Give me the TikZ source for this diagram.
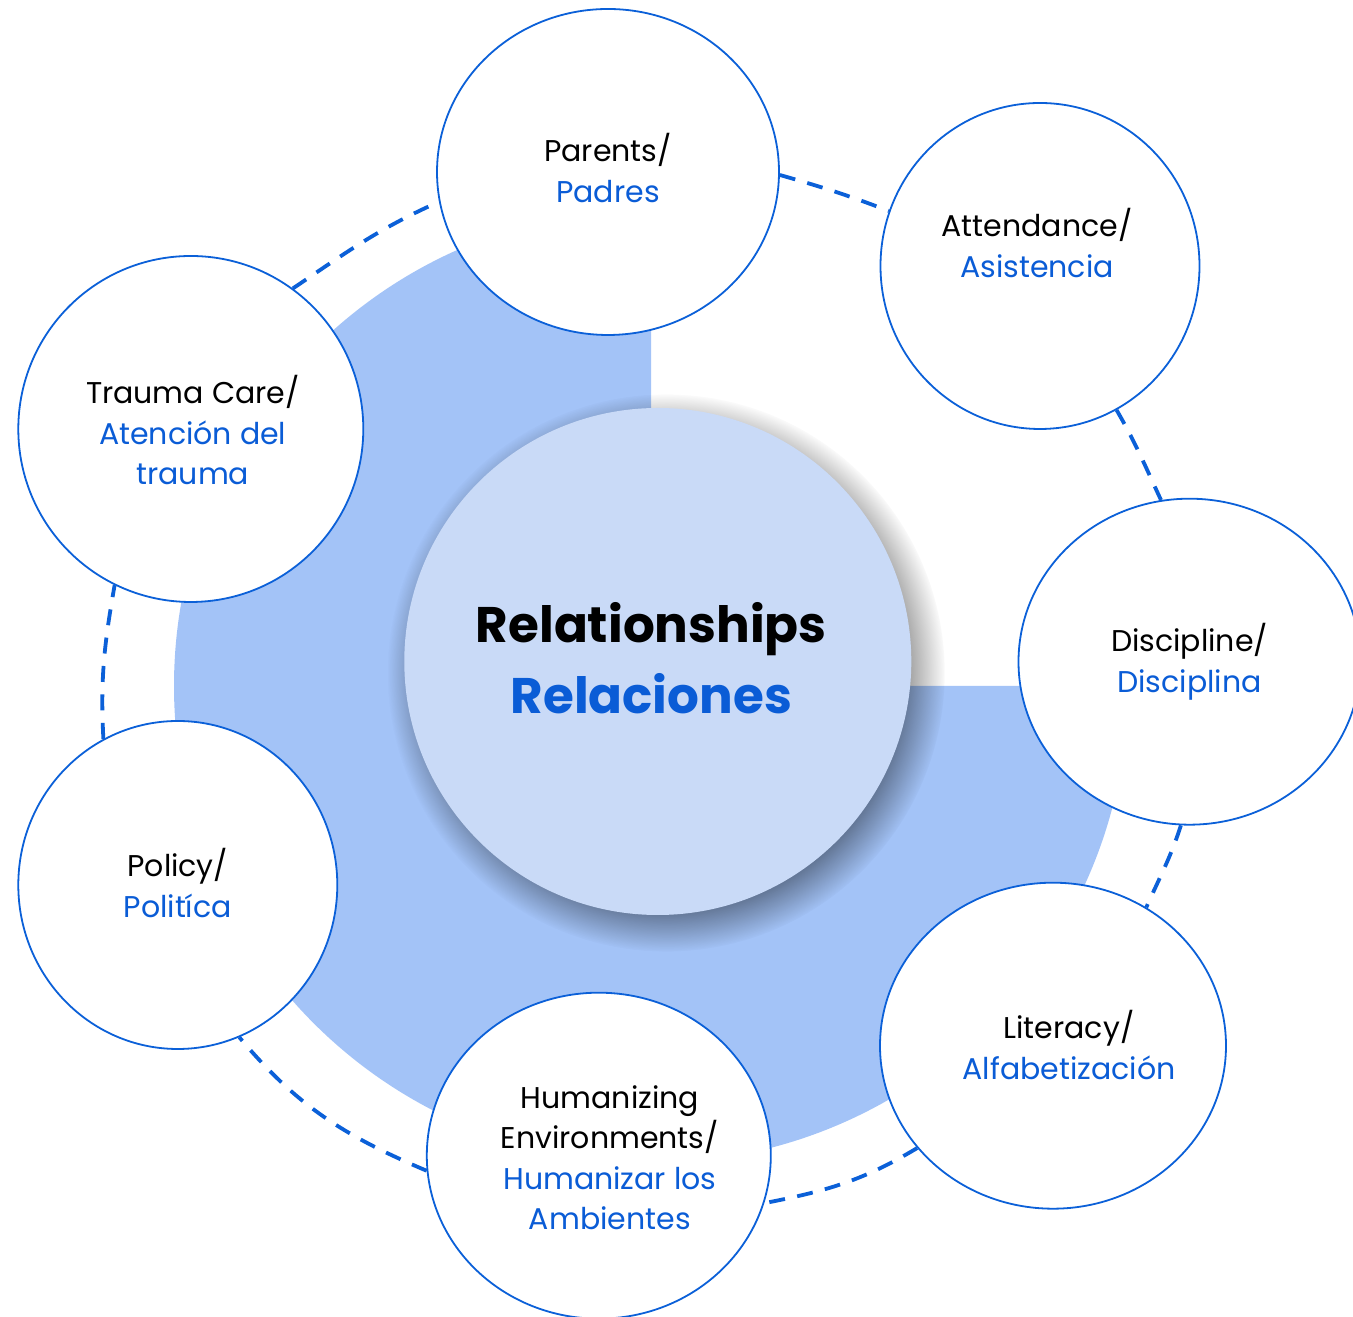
\documentclass[tikz,border=0pt]{standalone}
\usepackage{fontspec}
\setmainfont{Poppins}
\usetikzlibrary{shapes.geometric,shadows}
\definecolor{tblue}{HTML}{0A5CD6}
\definecolor{lineblue}{HTML}{0B60D8}
\definecolor{diskblue}{HTML}{A3C3F7}
\definecolor{coreblue}{HTML}{C9DAF7}
\newcommand{\lgph}{\vphantom{lg}}
\begin{document}
\begin{tikzpicture}[x=1pt,y=1pt,
  bubble/.style={ellipse, draw=lineblue, line width=1.8pt, fill=white, inner sep=0pt},
  txt/.style={font=\fontsize{30}{40.5}\selectfont, align=center, text=black, inner sep=0pt},
  coretxt/.style={font=\fontsize{50}{71}\selectfont\bfseries, align=center, text=black, inner sep=0pt},
  ring/.style={draw=lineblue, line width=3.8pt, dash pattern=on 16pt off 12.5pt}]
\useasboundingbox (0,0) rectangle (1353,1317);
% three-quarter disk
\fill[diskblue] (651,631) -- (651,1108) arc[start angle=90, end angle=360, radius=477] -- cycle;
% central circle
\node[circle, minimum size=507pt, inner sep=0pt, fill=coreblue,
  circular drop shadow={shadow xshift=8pt, shadow yshift=-10pt, shadow scale=1.1, opacity=0.4, fill=black},
  label={[coretxt, xshift=-6.5pt, yshift=3pt]center:{Relationships\\\textcolor{tblue}{Relaciones}}}]
  (core) at (657.8,655.5) {};
% outer bubbles
\node[bubble, minimum width=342pt, minimum height=326pt,
  label={[txt]center:{\lgph Parents/\\\textcolor{tblue}{Padres}\lgph}}] (parents) at (608,1145) {};
\node[bubble, minimum width=319pt, minimum height=326pt,
  label={[txt, xshift=-3pt, yshift=19pt]center:{\lgph Attendance/\\\textcolor{tblue}{Asistencia}\lgph}}] (attend) at (1040,1051) {};
\node[bubble, minimum width=342pt, minimum height=326pt,
  label={[txt]center:{\lgph Discipline/\\\textcolor{tblue}{Disciplina}\lgph}}] (discip) at (1189.5,655.3) {};
\node[bubble, minimum width=346pt, minimum height=326pt,
  label={[txt, xshift=16pt, yshift=-3pt]center:{\lgph Literacy/\\\textcolor{tblue}{Alfabetización}\lgph}}] (literacy) at (1053,271.3) {};
\node[bubble, minimum width=344pt, minimum height=326pt,
  label={[txt, xshift=11pt, yshift=-6pt]center:{\lgph Humanizing\\Environments/\\\textcolor{tblue}{Humanizar los}\\\textcolor{tblue}{Ambientes}\lgph}}] (human) at (598.8,161.3) {};
\node[bubble, minimum width=319pt, minimum height=328pt,
  label={[txt, yshift=-2pt]center:{\lgph Policy/\\\textcolor{tblue}{Politíca}\lgph}}] (policy) at (177.8,432) {};
\node[bubble, minimum width=345pt, minimum height=346pt,
  label={[txt, xshift=2pt, yshift=-5pt]center:{\lgph Trauma Care/\\\textcolor{tblue}{Atención del}\\\textcolor{tblue}{trauma}\lgph}}] (trauma) at (190.8,888) {};
% dashed ring connectors
\draw[ring] (parents.-1) to[out=-16, in=159] (attend.160);
\draw[ring] (attend.-62) to[out=-60, in=115] (discip.100);
\draw[ring] (discip.-93) to[out=-108, in=66] (literacy.56);
\draw[ring] (literacy.217) to[out=211, in=11] (human.-16);
\draw[ring] (human.185) to[out=157, in=-50] (policy.-68);
\draw[ring] (policy.117) to[out=93, in=260] (trauma.244);
\draw[ring] (trauma.54) to[out=34, in=204] (parents.190);
\end{tikzpicture}
\end{document}
